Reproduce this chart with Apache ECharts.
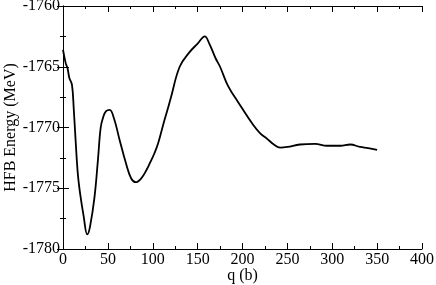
<!DOCTYPE html>
<html>
<head>
<meta charset="utf-8">
<script src="https://cdn.jsdelivr.net/npm/echarts@6/dist/echarts.min.js"></script>
<style>html,body{margin:0;padding:0;background:#fff}#c{width:436px;height:285px}</style>
</head>
<body>
<div id="c"></div>
<script>
var qValues = [0, 3, 5, 7, 10, 12, 14, 16.5, 19, 23, 27, 30, 35, 39, 42, 45, 48, 52, 57, 63, 70, 76, 81, 87, 93, 97, 102, 106, 113, 117, 120, 130, 141, 150, 158, 163, 170, 175, 184, 195, 212, 220, 227, 235, 242, 250, 264, 281, 294, 309, 320, 331, 340, 350];
var energyValues = [-1763.6, -1764.7, -1765.1, -1765.9, -1766.5, -1768.5, -1771.0, -1773.8, -1775.4, -1777.3, -1778.8, -1778.2, -1775.8, -1772.6, -1770.0, -1769.1, -1768.65, -1768.55, -1769.3, -1771.0, -1772.9, -1774.2, -1774.5, -1774.2, -1773.5, -1772.9, -1772.1, -1771.3, -1769.4, -1768.4, -1767.6, -1765.0, -1763.8, -1763.1, -1762.5, -1763.1, -1764.3, -1765.0, -1766.6, -1767.9, -1769.8, -1770.5, -1770.9, -1771.4, -1771.65, -1771.6, -1771.4, -1771.35, -1771.5, -1771.5, -1771.4, -1771.6, -1771.7, -1771.85];
var xTicks = [0, 50, 100, 150, 200, 250, 300, 350, 400];
var yTicks = [-1780, -1775, -1770, -1765, -1760];

var data = qValues.map(function (q, i) { return [q, energyValues[i]]; });
var font = 'Liberation Serif';
var axisLine = { show: true, lineStyle: { color: '#000', width: 1 } };
function ticks(len) { return { show: true, inside: true, length: len, lineStyle: { color: '#000' } }; }
function minor(len) { return { show: true, length: len, splitNumber: 2, lineStyle: { color: '#000' } }; }
function plain(v) { return String(v); }

var chart = echarts.init(document.getElementById('c'), null, { renderer: 'canvas' });
chart.setOption({
  animation: false,
  grid: { left: 63, top: 6, right: 14, bottom: 36, containLabel: false, outerBoundsMode: 'none' },
  xAxis: [{
    type: 'value', min: xTicks[0], max: xTicks[xTicks.length - 1], interval: 50,
    name: 'q (b)', nameLocation: 'middle', nameGap: 19, nameMoveOverlap: false,
    nameTextStyle: { fontFamily: font, fontSize: 16, color: '#000' },
    axisLine: axisLine, axisTick: ticks(6), minorTick: minor(3), splitLine: { show: false },
    axisLabel: { fontFamily: font, fontSize: 16, color: '#000', margin: 3, formatter: plain }
  }, {
    type: 'value', position: 'top', min: xTicks[0], max: xTicks[xTicks.length - 1], interval: 50,
    axisLine: axisLine, axisTick: ticks(6), minorTick: minor(3), splitLine: { show: false },
    axisLabel: { show: false }
  }],
  yAxis: [{
    type: 'value', min: yTicks[0], max: yTicks[yTicks.length - 1], interval: 5,
    name: 'HFB Energy (MeV)', nameLocation: 'middle', nameGap: 44, nameMoveOverlap: false,
    nameTextStyle: { fontFamily: font, fontSize: 16, color: '#000' },
    axisLine: axisLine, axisTick: ticks(6), minorTick: minor(3), splitLine: { show: false },
    axisLabel: { fontFamily: font, fontSize: 16, color: '#000', margin: 3, formatter: plain }
  }, {
    type: 'value', position: 'right', min: yTicks[0], max: yTicks[yTicks.length - 1], interval: 5,
    axisLine: axisLine, axisTick: ticks(6), minorTick: minor(3), splitLine: { show: false },
    axisLabel: { show: false }
  }],
  series: [{
    type: 'line', data: data, xAxisIndex: 0, yAxisIndex: 0,
    showSymbol: false, smooth: 0.4,
    lineStyle: { color: '#000', width: 1.8 }
  }]
});
</script>
</body>
</html>
